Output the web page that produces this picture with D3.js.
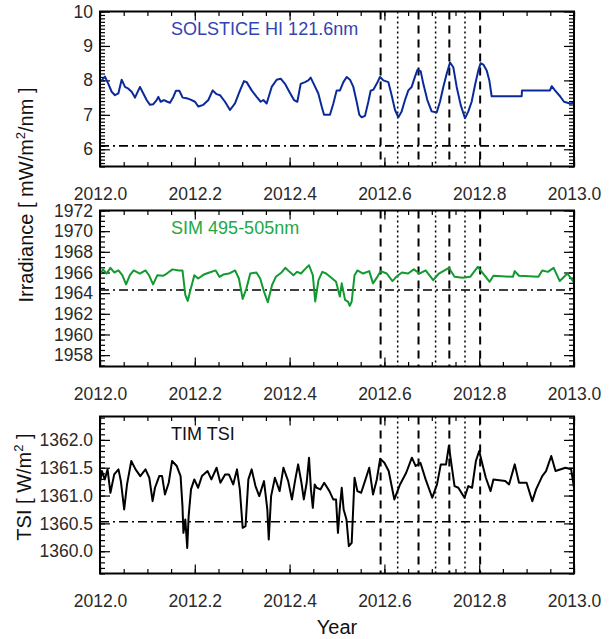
<!DOCTYPE html>
<html><head><meta charset="utf-8">
<script src="https://cdn.jsdelivr.net/npm/d3@7"></script>
<style>
body{margin:0;background:#fff;}
text{font-family:"Liberation Sans",Arial,sans-serif;}
</style></head>
<body><div id="chart"></div>
<script>
// ---------- DATA ----------
const xTickLabels = [2012.0, 2012.2, 2012.4, 2012.6, 2012.8, 2013.0];
const dashedDates = [2012.592, 2012.672, 2012.737, 2012.802];
const dottedDates = [2012.628, 2012.708, 2012.770];

// SOLSTICE HI 121.6 nm  (fraction of year 2012, mW/m2/nm)
const solFrac = [0.0000,0.0035,0.0105,0.0176,0.0246,0.0316,0.0387,0.0457,0.0527,0.0598,0.0668,0.0738,0.0844,0.0914,0.0984,0.1055,0.1125,0.1195,0.1231,0.1280,0.1350,0.1421,0.1477,0.1547,0.1603,0.1674,0.1744,0.1828,0.1899,0.2004,0.2075,0.2180,0.2286,0.2377,0.2461,0.2532,0.2637,0.2743,0.2848,0.2954,0.3038,0.3094,0.3200,0.3305,0.3390,0.3446,0.3516,0.3622,0.3727,0.3812,0.3903,0.3994,0.4093,0.4163,0.4234,0.4325,0.4395,0.4445,0.4501,0.4606,0.4677,0.4726,0.4852,0.4923,0.4993,0.5063,0.5134,0.5204,0.5274,0.5345,0.5415,0.5471,0.5520,0.5591,0.5661,0.5710,0.5767,0.5837,0.5907,0.5978,0.6083,0.6153,0.6224,0.6294,0.6364,0.6435,0.6505,0.6575,0.6646,0.6695,0.6765,0.6821,0.6906,0.6997,0.7103,0.7173,0.7243,0.7314,0.7384,0.7454,0.7525,0.7609,0.7700,0.7771,0.7841,0.7911,0.7982,0.8031,0.8087,0.8158,0.8214,0.8263,0.8896,0.8903,0.9494,0.9529,0.9599,0.9705,0.9789,0.9916,1.0000];
const solValues = [8.00,8.00,8.11,7.90,7.67,7.57,7.62,8.02,7.81,7.76,7.67,7.50,7.81,7.62,7.43,7.29,7.31,7.43,7.52,7.38,7.43,7.38,7.35,7.52,7.70,7.70,7.50,7.48,7.45,7.38,7.24,7.29,7.43,7.71,7.60,7.57,7.38,7.14,7.33,7.71,7.98,7.95,7.71,7.52,7.38,7.43,7.33,7.81,8.02,8.05,7.90,7.67,7.43,7.38,7.90,7.95,8.00,8.08,7.92,7.62,7.24,7.00,7.00,7.33,7.71,7.71,7.95,8.10,8.02,7.81,7.38,7.00,6.93,6.97,7.38,7.70,7.73,7.90,8.10,8.00,7.95,7.57,7.14,6.93,7.10,7.43,7.71,7.81,8.11,8.30,8.27,7.90,7.43,7.10,7.07,7.38,7.81,8.19,8.52,8.38,7.81,7.29,6.90,7.10,7.38,7.86,8.29,8.50,8.46,8.29,8.00,7.54,7.54,7.71,7.71,7.83,7.71,7.54,7.38,7.33,7.35];

// SIM 495-505 nm
const simFrac = [0.000,0.006,0.014,0.022,0.030,0.039,0.047,0.055,0.063,0.071,0.084,0.096,0.104,0.112,0.121,0.133,0.141,0.153,0.166,0.174,0.180,0.185,0.190,0.199,0.207,0.219,0.231,0.244,0.252,0.260,0.272,0.285,0.293,0.301,0.309,0.317,0.330,0.338,0.346,0.354,0.363,0.371,0.383,0.391,0.400,0.408,0.416,0.424,0.432,0.441,0.449,0.454,0.461,0.469,0.477,0.490,0.498,0.506,0.510,0.517,0.523,0.527,0.531,0.537,0.543,0.555,0.568,0.576,0.584,0.592,0.605,0.617,0.625,0.637,0.650,0.662,0.674,0.687,0.703,0.715,0.736,0.748,0.765,0.781,0.797,0.810,0.822,0.830,0.871,0.875,0.884,0.925,0.933,0.945,0.957,0.970,0.986,1.000];
const simValues = [1965.74,1966.30,1965.90,1966.45,1966.00,1966.20,1965.74,1964.85,1965.74,1966.20,1965.90,1966.20,1965.68,1964.85,1965.74,1965.68,1965.90,1966.30,1966.20,1966.20,1963.83,1963.25,1964.15,1965.74,1965.42,1965.80,1966.00,1966.20,1965.58,1965.80,1965.90,1966.20,1965.42,1963.44,1964.47,1965.90,1966.00,1965.42,1964.15,1963.12,1964.79,1965.58,1966.00,1966.45,1966.06,1965.74,1966.06,1965.90,1966.30,1966.70,1965.74,1963.19,1965.26,1966.06,1965.90,1965.42,1965.10,1963.67,1964.95,1963.35,1963.19,1962.77,1963.19,1965.74,1966.20,1965.90,1966.13,1964.95,1965.50,1966.13,1965.90,1965.17,1965.58,1966.00,1965.90,1966.30,1965.90,1966.20,1965.26,1965.90,1966.45,1965.58,1965.50,1965.58,1966.54,1965.80,1965.10,1965.68,1965.58,1966.13,1965.68,1965.58,1966.20,1966.06,1966.45,1965.17,1965.90,1965.04];

// TIM TSI (W/m2)
const tsiFrac = [0.000,0.004,0.010,0.016,0.022,0.030,0.039,0.044,0.051,0.057,0.066,0.075,0.085,0.096,0.104,0.111,0.116,0.125,0.131,0.137,0.145,0.152,0.162,0.170,0.174,0.176,0.180,0.184,0.187,0.192,0.199,0.207,0.215,0.227,0.235,0.246,0.254,0.264,0.272,0.281,0.289,0.295,0.301,0.307,0.313,0.320,0.328,0.336,0.346,0.353,0.356,0.361,0.369,0.379,0.387,0.397,0.405,0.412,0.418,0.425,0.430,0.436,0.441,0.445,0.449,0.453,0.457,0.465,0.473,0.484,0.492,0.498,0.502,0.506,0.510,0.514,0.520,0.525,0.531,0.537,0.543,0.551,0.559,0.568,0.576,0.584,0.591,0.600,0.609,0.621,0.633,0.646,0.658,0.666,0.676,0.687,0.701,0.711,0.719,0.730,0.736,0.742,0.748,0.756,0.769,0.777,0.785,0.793,0.800,0.806,0.814,0.824,0.830,0.855,0.863,0.875,0.884,0.900,0.912,0.920,0.933,0.941,0.952,0.961,0.982,0.994,1.000];
const tsiValues = [1361.23,1361.44,1361.29,1361.47,1361.05,1361.38,1361.47,1361.26,1360.75,1361.20,1361.62,1361.47,1361.35,1361.47,1361.32,1360.90,1361.14,1361.35,1361.35,1361.02,1361.23,1361.62,1361.53,1361.35,1360.81,1360.33,1360.57,1360.06,1360.63,1361.11,1361.29,1361.14,1361.35,1361.44,1361.29,1361.50,1361.23,1361.38,1361.38,1361.20,1361.47,1361.11,1360.42,1360.45,1361.29,1361.47,1361.17,1360.99,1361.26,1360.75,1360.21,1360.99,1361.32,1361.08,1361.50,1361.26,1360.93,1361.29,1361.56,1361.23,1360.93,1361.23,1361.68,1361.11,1360.78,1361.20,1361.14,1361.11,1361.23,1361.08,1360.93,1360.93,1360.33,1360.78,1361.14,1360.75,1360.57,1360.09,1360.15,1361.32,1361.08,1361.05,1361.26,1361.50,1361.02,1361.29,1361.66,1361.59,1361.44,1360.93,1361.20,1361.41,1361.68,1361.53,1361.59,1361.29,1360.96,1361.20,1361.56,1361.56,1361.89,1361.53,1361.17,1361.14,1360.96,1361.17,1361.14,1361.62,1361.80,1361.59,1361.32,1361.08,1361.29,1361.26,1361.20,1361.56,1361.23,1361.23,1360.90,1361.11,1361.35,1361.44,1361.71,1361.44,1361.50,1361.47,1361.14];

const refLevels = [6.1, 1964.3, 1360.53];
const yTicks1 = [6, 7, 8, 9, 10];
const yTicks2 = [1958, 1960, 1962, 1964, 1966, 1968, 1970, 1972];
const yTicks3 = [1360.0, 1360.5, 1361.0, 1361.5, 1362.0];

// ---------- LAYOUT ----------
const W = 610, H = 639;
const x0 = 100, x1 = 574;
const panels = [
  {top: 11.5, bottom: 166.5, domain: [5.5, 10], ticks: yTicks1, minor: 0.1, fmt: d3.format("d"),
   frac: solFrac, vals: solValues, color: "#0a2a9a", label: "SOLSTICE HI 121.6nm", labelColor: "#2f45b0", ref: refLevels[0]},
  {top: 210.5, bottom: 366.5, domain: [1956.9, 1972], ticks: yTicks2, minor: 0.5, fmt: d3.format("d"),
   frac: simFrac, vals: simValues, color: "#109a30", label: "SIM 495-505nm", labelColor: "#22a844", ref: refLevels[1]},
  {top: 416.5, bottom: 573.5, domain: [1359.6, 1362.42], ticks: yTicks3, minor: 0.1, fmt: d3.format(".1f"),
   frac: tsiFrac, vals: tsiValues, color: "#000000", label: "TIM TSI", labelColor: "#111", ref: refLevels[2]}
];

const svg = d3.select("#chart").append("svg").attr("width", W).attr("height", H);
const x = d3.scaleLinear().domain([2012, 2013]).range([x0, x1]);
const xMinor = d3.range(2012, 2013.0001, 0.05);

panels.forEach((p, i) => {
  const y = d3.scaleLinear().domain(p.domain).range([p.bottom, p.top]);
  const g = svg.append("g");
  const clipId = "clip" + i;
  svg.append("clipPath").attr("id", clipId).append("rect")
    .attr("x", x0).attr("y", p.top).attr("width", x1 - x0).attr("height", p.bottom - p.top);

  const yMinor = d3.range(Math.ceil(p.domain[0] / p.minor) * p.minor, p.domain[1] + 1e-6, p.minor);

  const axStyle = sel => { sel.select(".domain").remove(); sel.selectAll("line").attr("stroke", "#000").attr("stroke-width", 1.2); };
  g.append("g").attr("transform", `translate(0,${p.bottom})`).call(d3.axisBottom(x).tickValues(xMinor).tickSize(-4.5).tickFormat("")).call(axStyle);
  g.append("g").attr("transform", `translate(0,${p.top})`).call(d3.axisTop(x).tickValues(xMinor).tickSize(-4.5).tickFormat("")).call(axStyle);
  g.append("g").attr("transform", `translate(${x0},0)`).call(d3.axisLeft(y).tickValues(yMinor).tickSize(-5).tickFormat("")).call(axStyle);
  g.append("g").attr("transform", `translate(${x1},0)`).call(d3.axisRight(y).tickValues(yMinor).tickSize(-5).tickFormat("")).call(axStyle);

  const labStyle = sel => { axStyle(sel); sel.selectAll("text").attr("fill", "#2a2a2a").style("font-size", "17.5px").style("font-family", "'Liberation Sans',Arial,sans-serif"); };
  g.append("g").attr("transform", `translate(0,${p.bottom})`).call(d3.axisBottom(x).tickValues(xTickLabels).tickSize(-9).tickPadding(21).tickFormat(d3.format(".1f"))).call(labStyle);
  g.append("g").attr("transform", `translate(0,${p.top})`).call(d3.axisTop(x).tickValues(xTickLabels).tickSize(-9).tickFormat("")).call(axStyle);
  g.append("g").attr("transform", `translate(${x0},0)`).call(d3.axisLeft(y).tickValues(p.ticks).tickSize(-10).tickPadding(7).tickFormat(p.fmt)).call(labStyle);
  g.append("g").attr("transform", `translate(${x1},0)`).call(d3.axisRight(y).tickValues(p.ticks).tickSize(-10).tickFormat("")).call(axStyle);

  g.append("line").attr("x1", x0).attr("x2", x1).attr("y1", y(p.ref)).attr("y2", y(p.ref))
    .attr("stroke", "#000").attr("stroke-width", 1.6).attr("stroke-dasharray", "9,4,2,4");
  dashedDates.forEach(d => g.append("line").attr("x1", x(d)).attr("x2", x(d)).attr("y1", p.top).attr("y2", p.bottom)
    .attr("stroke", "#000").attr("stroke-width", 2).attr("stroke-dasharray", "8,6"));
  dottedDates.forEach(d => g.append("line").attr("x1", x(d)).attr("x2", x(d)).attr("y1", p.top).attr("y2", p.bottom)
    .attr("stroke", "#000").attr("stroke-width", 1.5).attr("stroke-dasharray", "2,3"));

  const pts = p.frac.map((f, k) => [2012 + f, p.vals[k]]);
  g.append("path").datum(pts).attr("clip-path", `url(#${clipId})`)
    .attr("fill", "none").attr("stroke", p.color).attr("stroke-width", 2).attr("stroke-linejoin", "round")
    .attr("d", d3.line().x(d => x(d[0])).y(d => y(d[1])));

  g.append("rect").attr("x", x0).attr("y", p.top).attr("width", x1 - x0).attr("height", p.bottom - p.top)
    .attr("fill", "none").attr("stroke", "#000").attr("stroke-width", 2);

  g.append("text").attr("x", x(2012.15)).attr("y", p.top + 23).attr("fill", p.labelColor)
    .style("font-size", "18px").text(p.label);
});

const t1 = svg.append("text").attr("transform", "translate(33,195) rotate(-90)")
  .attr("text-anchor", "middle").attr("fill", "#111").style("font-size", "20px");
t1.append("tspan").text("Irradiance [ mW/m");
t1.append("tspan").attr("dy", -8).style("font-size", "13px").text("2");
t1.append("tspan").attr("dy", 8).text("/nm ]");

const t2 = svg.append("text").attr("transform", "translate(31,487) rotate(-90)")
  .attr("text-anchor", "middle").attr("fill", "#111").style("font-size", "20px");
t2.append("tspan").text("TSI [ W/m");
t2.append("tspan").attr("dy", -8).style("font-size", "13px").text("2");
t2.append("tspan").attr("dy", 8).text(" ]");

svg.append("text").attr("x", (x0 + x1) / 2).attr("y", 634).attr("text-anchor", "middle")
  .attr("fill", "#111").style("font-size", "20px").text("Year");
</script></body></html>
